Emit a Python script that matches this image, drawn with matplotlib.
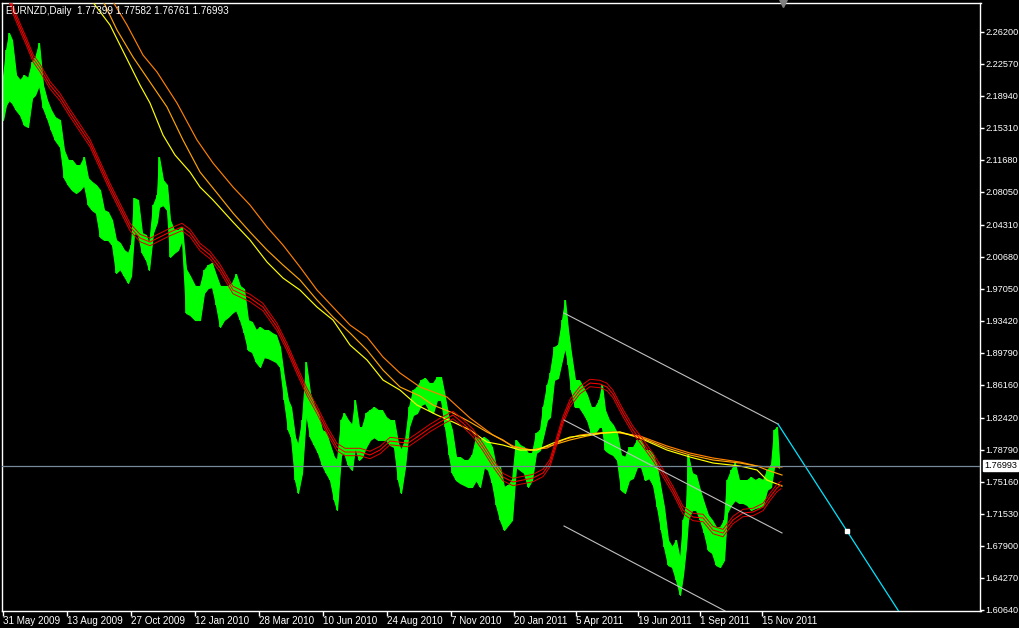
import matplotlib
matplotlib.use('Agg')
import matplotlib.pyplot as plt
from matplotlib.transforms import blended_transform_factory

# ---------------- data (bar index, price) ----------------
bars = [0, 3, 6, 9, 13, 17, 21, 25, 29, 32, 36, 40, 44, 48, 52, 57, 61, 65, 69, 73,
        77, 81, 85, 89, 93, 97, 101, 105, 109, 113, 117, 121, 125, 128, 131, 135, 139, 143, 146, 150,
        154, 156, 160, 164, 167, 171, 175, 179, 183, 187, 192, 197, 201, 205, 209, 213, 217, 221, 225, 229,
        233, 237, 241, 245, 249, 253, 257, 261, 265, 269, 273, 277, 281, 285, 288, 292, 295, 299, 303, 307,
        311, 315, 319, 323, 327, 331, 334, 338, 341, 345, 349, 352, 356, 359, 363, 367, 371, 375, 379, 383,
        387, 391, 395, 398, 402, 406, 410, 414, 418, 422, 426, 430, 434, 438, 442, 446, 449, 453, 457, 461,
        465, 469, 473, 477, 481, 485, 489, 493, 497, 501, 505, 509, 513, 517, 521, 525, 529, 533, 537, 540,
        544, 547, 551, 555, 559, 562, 565, 568, 572, 576, 580, 584, 588, 592, 596, 599, 602, 606, 610, 614,
        618, 622, 626, 630, 634, 638, 642, 646, 650, 654, 658, 661, 665, 669, 673, 677, 680, 683, 685, 689,
        693, 697, 701, 705, 709, 713, 717, 721, 724, 728, 732, 736, 740, 744, 748, 752, 756, 760, 764, 768,
        771, 774, 776]
highs = [2.2106, 2.2412, 2.2605, 2.2526, 2.2129, 2.2072, 2.2129, 2.2095, 2.2276, 2.2321, 2.2491, 2.2015, 2.1845, 2.1732, 2.1652, 2.1618, 2.1278, 2.1165, 2.1165, 2.1108,
         2.1108, 2.1199, 2.0961, 2.0916, 2.0882, 2.0825, 2.0598, 2.0576, 2.0485, 2.0259, 2.0225, 2.0145, 2.0111, 2.0202, 2.0735, 2.0712, 2.0338, 2.0315, 2.0202, 2.0655,
         2.0768, 2.1199, 2.0938, 2.0882, 2.0485, 2.0372, 2.0372, 2.0406, 1.9929, 1.9850, 1.9737, 1.9737, 1.9918, 1.9975, 1.9997, 1.9861, 1.9737, 1.9737, 1.9737, 1.9771,
         1.9873, 1.9737, 1.9703, 1.9351, 1.9329, 1.9238, 1.9272, 1.9238, 1.9238, 1.9204, 1.9181, 1.9045, 1.8705, 1.8444, 1.8365, 1.8024, 1.7934, 1.8217, 1.8875, 1.8524,
         1.8387, 1.8297, 1.8104, 1.8081, 1.7934, 1.7798, 1.7764, 1.8217, 1.8297, 1.8217, 1.8161, 1.8444, 1.8138, 1.8138, 1.8297, 1.8331, 1.8365, 1.8331, 1.8331, 1.8252,
         1.8217, 1.8217, 1.7956, 1.7877, 1.7991, 1.8365, 1.8557, 1.8592, 1.8671, 1.8694, 1.8637, 1.8637, 1.8705, 1.8705, 1.8478, 1.8217, 1.8104, 1.7798, 1.7798, 1.7764,
         1.7764, 1.7821, 1.8024, 1.7991, 1.8024, 1.7991, 1.7911, 1.7685, 1.7685, 1.7458, 1.7481, 1.7537, 1.7991, 1.7934, 1.7911, 1.7843, 1.7843, 1.8070, 1.8104, 1.8365,
         1.8614, 1.8750, 1.9045, 1.9068, 1.9351, 1.9578, 1.9238, 1.8977, 1.8671, 1.8671, 1.8592, 1.8501, 1.8365, 1.8365, 1.8444, 1.8614, 1.8331, 1.8217, 1.8161, 1.8070,
         1.7821, 1.7798, 1.7911, 1.7911, 1.7991, 1.7991, 1.7877, 1.7877, 1.7821, 1.7685, 1.7424, 1.7231, 1.6857, 1.6778, 1.6857, 1.6630, 1.7084, 1.7231, 1.7821, 1.7617,
         1.7594, 1.7424, 1.7277, 1.7141, 1.7084, 1.7004, 1.7004, 1.7084, 1.7537, 1.7651, 1.7730, 1.7537, 1.7537, 1.7537, 1.7571, 1.7537, 1.7560, 1.7537, 1.7651, 1.7707,
         1.8104, 1.8138, 1.7758]
lows = [2.1618, 2.1788, 2.1845, 2.1811, 2.1732, 2.1675, 2.1562, 2.1539, 2.1868, 2.1902, 2.2015, 2.1755, 2.1641, 2.1505, 2.1391, 2.1312, 2.0961, 2.0882, 2.0825, 2.0791,
        2.0825, 2.0882, 2.0655, 2.0598, 2.0564, 2.0293, 2.0259, 2.0259, 2.0202, 1.9884, 1.9929, 1.9850, 1.9771, 1.9850, 2.0338, 2.0315, 2.0111, 2.0032, 1.9918, 2.0338,
        2.0462, 2.0632, 2.0655, 2.0598, 2.0066, 2.0111, 2.0145, 2.0259, 1.9431, 1.9408, 1.9351, 1.9351, 1.9657, 1.9714, 1.9725, 1.9521, 1.9272, 1.9351, 1.9385, 1.9431,
        1.9465, 1.9351, 1.9204, 1.9011, 1.8988, 1.8875, 1.8818, 1.8931, 1.8920, 1.8898, 1.8875, 1.8818, 1.8444, 1.8104, 1.8024, 1.7537, 1.7390, 1.7617, 1.8297, 1.8024,
        1.7934, 1.7843, 1.7707, 1.7617, 1.7537, 1.7311, 1.7197, 1.7821, 1.7843, 1.7707, 1.7651, 1.7911, 1.7764, 1.7798, 1.7911, 1.7991, 1.8024, 1.7991, 1.7991, 1.7991,
        1.7934, 1.7911, 1.7537, 1.7390, 1.7685, 1.8138, 1.8274, 1.8297, 1.8387, 1.8410, 1.8331, 1.8297, 1.8444, 1.8444, 1.8138, 1.7821, 1.7617, 1.7537, 1.7503, 1.7481,
        1.7458, 1.7458, 1.7537, 1.7458, 1.7685, 1.7651, 1.7503, 1.7254, 1.7084, 1.6970, 1.7027, 1.7084, 1.7685, 1.7651, 1.7617, 1.7458, 1.7537, 1.7843, 1.7877, 1.8024,
        1.8217, 1.8252, 1.8671, 1.8694, 1.8898, 1.9045, 1.8841, 1.8557, 1.8365, 1.8365, 1.8297, 1.8217, 1.8070, 1.8070, 1.8138, 1.8138, 1.7877, 1.7843, 1.7821, 1.7764,
        1.7424, 1.7390, 1.7537, 1.7560, 1.7685, 1.7685, 1.7537, 1.7560, 1.7481, 1.7231, 1.6970, 1.6778, 1.6573, 1.6551, 1.6403, 1.6234, 1.6460, 1.6778, 1.7084, 1.7197,
        1.7197, 1.7084, 1.6936, 1.6743, 1.6710, 1.6573, 1.6551, 1.6630, 1.7163, 1.7254, 1.7311, 1.7277, 1.7277, 1.7254, 1.7197, 1.7220, 1.7231, 1.7254, 1.7424, 1.7458,
        1.7685, 1.7707, 1.7676]

# fast moving average (three red lines)
ma_red_bars = [2, 10, 17, 24, 30, 37, 47, 57, 67, 77, 87, 97, 107, 117, 127, 137, 147, 157, 167, 179,
               187, 197, 207, 217, 230, 247, 260, 274, 284, 294, 304, 314, 324, 334, 342, 357, 367, 377, 387, 405,
               414, 427, 437, 450, 460, 470, 480, 490, 500, 510, 520, 530, 540, 547, 554, 560, 567, 577, 587, 597,
               604, 610, 620, 630, 640, 650, 660, 670, 680, 690, 700, 710, 720, 730, 740, 750, 760, 767, 774, 778]
ma_red = [2.3149, 2.2866, 2.2673, 2.2491, 2.2321, 2.2208, 2.2015, 2.1879, 2.1698, 2.1528, 2.1358, 2.1108, 2.0859, 2.0632, 2.0406, 2.0281, 2.0236, 2.0293, 2.0349, 2.0406,
          2.0338, 2.0179, 2.0088, 1.9941, 1.9691, 1.9601, 1.9498, 1.9272, 1.9045, 1.8784, 1.8535, 1.8331, 1.8104, 1.7911, 1.7855, 1.7855, 1.7821, 1.7877, 1.7979, 1.7956,
          1.8024, 1.8127, 1.8195, 1.8274, 1.8183, 1.8070, 1.7911, 1.7730, 1.7571, 1.7515, 1.7537, 1.7560, 1.7617, 1.7730, 1.7991, 1.8217, 1.8410, 1.8557, 1.8637, 1.8626,
          1.8592, 1.8512, 1.8297, 1.8104, 1.7957, 1.7798, 1.7617, 1.7424, 1.7197, 1.7118, 1.7107, 1.6970, 1.6936, 1.7084, 1.7163, 1.7175, 1.7231, 1.7345, 1.7447, 1.7481]

# slow moving averages
ma_yellow_bars = [82, 92, 107, 122, 137, 147, 160, 172, 187, 197, 210, 230, 247, 264, 280, 297, 314, 330, 347, 364,
                  380, 397, 414, 434, 450, 467, 484, 500, 517, 534, 550, 567, 584, 600, 617, 637, 664, 687, 710, 737,
                  754, 764, 779]
ma_yellow = [2.3092, 2.2922, 2.2696, 2.2355, 2.2015, 2.1811, 2.1449, 2.1222, 2.1029, 2.0859, 2.0712, 2.0462, 2.0259, 2.0009, 1.9827, 1.9691, 1.9498, 1.9351, 1.9068, 1.8898,
             1.8671, 1.8557, 1.8387, 1.8274, 1.8195, 1.8104, 1.7968, 1.7934, 1.7877, 1.7877, 1.7956, 1.8024, 1.8047, 1.8070, 1.8081, 1.8013, 1.7877, 1.7798, 1.7730, 1.7696,
             1.7651, 1.7537, 1.7469]
ma_orange_bars = [94, 102, 114, 130, 147, 164, 180, 197, 214, 230, 247, 264, 280, 297, 314, 330, 347, 364, 380, 397,
                  417, 430, 450, 467, 484, 500, 510, 530, 550, 567, 584, 600, 617, 637, 664, 687, 710, 737, 754, 764,
                  779]
ma_orange = [2.3092, 2.2922, 2.2639, 2.2333, 2.2049, 2.1766, 2.1392, 2.1029, 2.0791, 2.0564, 2.0349, 2.0145, 1.9975, 1.9805, 1.9578, 1.9385, 1.9204, 1.9011, 1.8784, 1.8592,
             1.8489, 1.8387, 1.8297, 1.8195, 1.8081, 1.7991, 1.7911, 1.7877, 1.7934, 1.7991, 1.8036, 1.8070, 1.8081, 1.8024, 1.7900, 1.7821, 1.7764, 1.7730, 1.7696, 1.7651,
             1.7594]
ma_dkorange_bars = [102, 109, 124, 140, 154, 174, 194, 210, 230, 247, 264, 280, 297, 314, 330, 347, 364, 380, 397, 417,
                    444, 467, 490, 510, 527, 544, 560, 577, 594, 610, 637, 664, 687, 710, 737, 754, 764, 779]
ma_dkorange = [2.3149, 2.2979, 2.2696, 2.2355, 2.2163, 2.1811, 2.1392, 2.1131, 2.0859, 2.0655, 2.0406, 2.0201, 1.9952, 1.9691, 1.9498, 1.9294, 1.9158, 1.8932, 1.8750, 1.8592,
               1.8478, 1.8240, 1.8047, 1.7923, 1.7877, 1.7900, 1.7991, 1.8047, 1.8070, 1.8081, 1.8036, 1.7923, 1.7843, 1.7787, 1.7741, 1.7696, 1.7685, 1.7685]

# channel (bar, price) anchors and projection line
chan_upper = ([561, 775], [1.9430, 1.8172])
chan_mid = ([561, 779], [1.8217, 1.6937])
chan_low = ([561, 722], [1.7016, 1.6053])
proj_line = ([775, 902], [1.8172, 1.5939])
proj_point = (844, 1.6959)

bid_price = 1.76993
title = "EURNZD,Daily  1.77399 1.77582 1.76761 1.76993"

ytick_vals = [2.26200, 2.22570, 2.18940, 2.15310, 2.11680, 2.08050, 2.04310, 2.00680, 1.97050, 1.93420,
              1.89790, 1.86160, 1.82420, 1.78790, 1.75160, 1.71530, 1.67900, 1.64270, 1.60640]
xtick_bars = [0, 64, 128, 192, 256, 320, 384, 448, 511, 573, 635, 697, 759]
xtick_labels = ["31 May 2009", "13 Aug 2009", "27 Oct 2009", "12 Jan 2010", "28 Mar 2010", "10 Jun 2010",
                "24 Aug 2010", "7 Nov 2010", "20 Jan 2011", "5 Apr 2011", "19 Jun 2011", "1 Sep 2011",
                "15 Nov 2011"]

# ---------------- drawing ----------------
W, H = 1020, 628
FONT = 'Liberation Sans'
FS = 7.1
FS_Y = 6.6
fig = plt.figure(figsize=(W / 100, H / 100), dpi=100, facecolor='black')
ax = fig.add_axes([2.5 / W, (H - 610.5) / H, 978 / W, 608 / H])
ax.set_facecolor('black')
ax.set_xlim(-0.5, 977.5)
ax.set_ylim(1.6058, 2.2951)

# price bars
ax.fill_between(bars, lows, highs, color='#00ff00', linewidth=0.8, edgecolor='#00ff00', zorder=2)
ax.vlines(bars, lows, highs, color='#00ff00', linewidth=1.2, zorder=2)

# slow MAs
ax.plot(ma_dkorange_bars, ma_dkorange, color='#ff8000', lw=0.85, zorder=3)
ax.plot(ma_orange_bars, ma_orange, color='#ffa500', lw=0.85, zorder=3)
ax.plot(ma_yellow_bars, ma_yellow, color='#ffff00', lw=0.85, zorder=3)

# fast MA band (three red lines)
band = 0.0042
ax.plot(ma_red_bars, [v + band for v in ma_red], color='#e00000', lw=0.7, zorder=4)
ax.plot(ma_red_bars, [v - band for v in ma_red], color='#e00000', lw=0.7, zorder=4)
ax.plot(ma_red_bars, ma_red, color='#ff0000', lw=0.75, zorder=4)

# channel lines
for xs, ys in (chan_upper, chan_mid, chan_low):
    ax.plot(xs, ys, color='#c0c0c0', lw=0.8, zorder=5)
ax.plot(*proj_line, color='#00e5ff', lw=0.9, zorder=5)
ax.plot([proj_point[0]], [proj_point[1]], marker='s', ms=3, color='white', mec='white', zorder=6)

# bid line
ax.axhline(bid_price, color='#778899', lw=0.9, zorder=5)

# chart shift marker
ax.plot([780], [2.2951], marker='v', ms=6, color='#808080', clip_on=False, zorder=7)

# axes styling
for s in ax.spines.values():
    s.set_color('white')
    s.set_linewidth(1)
ax.yaxis.tick_right()
ax.set_yticks(ytick_vals)
ax.set_yticklabels([f"{v:.5f}" for v in ytick_vals])
ax.set_xticks(xtick_bars)
ax.set_xticklabels(xtick_labels)
ax.tick_params(axis='y', colors='white', length=3, width=1, pad=0.8, labelsize=FS_Y)
ax.tick_params(axis='x', colors='white', length=3.5, width=1, pad=0.5, labelsize=FS)
for lbl in ax.get_xticklabels():
    lbl.set_ha('left')
    lbl.set_fontfamily(FONT)
for lbl in ax.get_yticklabels():
    lbl.set_fontfamily(FONT)

# bid price label
tr = blended_transform_factory(ax.transAxes, ax.transData)
ax.text(1 + 3.5 / 978, bid_price, f"{bid_price:.5f}", transform=tr, ha='left', va='center',
        fontsize=FS_Y, family=FONT, color='black', zorder=10, clip_on=False,
        bbox=dict(boxstyle='square,pad=0.1', fc='white', ec='white'))

fig.text(6 / W, 1 - 11 / H, title, color='white', fontsize=FS, family=FONT, ha='left', va='center')

fig.savefig('out.png', dpi=100, facecolor='black')
